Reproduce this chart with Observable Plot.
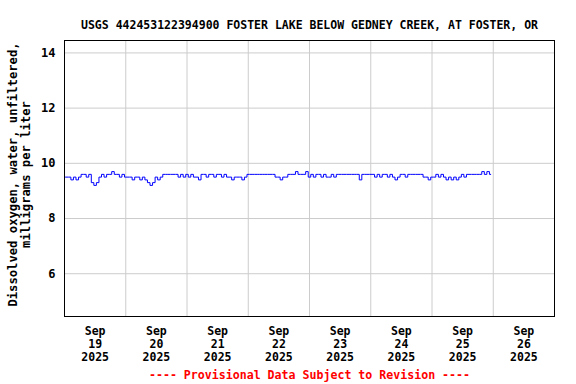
<!DOCTYPE html>
<html>
<head>
<meta charset="utf-8">
<script src="https://cdn.jsdelivr.net/npm/d3@7"></script>
<script src="https://cdn.jsdelivr.net/npm/@observablehq/plot@0.6"></script>
<style>
  html, body { margin: 0; padding: 0; background: #fff; }
  #chart svg { display: block; }
</style>
</head>
<body>
<div id="chart"></div>
<script>
const titleText = "USGS 442453122394900 FOSTER LAKE BELOW GEDNEY CREEK, AT FOSTER, OR";
const yLabelLines = ["Dissolved oxygen, water, unfiltered,", "milligrams per liter"];
const footerText = "---- Provisional Data Subject to Revision ----";
const tickMonth = "Sep";
const tickYear = "2025";
const tickDays = [19, 20, 21, 22, 23, 24, 25, 26];
const yTicks = [6, 8, 10, 12, 14];
const yDomain = [4.45, 14.45];
const startUTC = Date.UTC(2025, 8, 19, 0, 0);
const endUTC = Date.UTC(2025, 8, 27, 0, 0);

// hourly dissolved oxygen (mg/L), starting Sep 19 00:00
const doValues = [
  9.5, 9.5, 9.5, 9.4, 9.5, 9.4, 9.5, 9.6, 9.6, 9.5, 9.6, 9.3, 9.2, 9.3, 9.5, 9.6,
  9.5, 9.6, 9.6, 9.7, 9.6, 9.6, 9.5, 9.6, 9.5, 9.5, 9.5, 9.4, 9.5, 9.5, 9.4, 9.5,
  9.4, 9.3, 9.2, 9.3, 9.5, 9.4, 9.5, 9.6, 9.6, 9.6, 9.6, 9.6, 9.6, 9.5, 9.6, 9.5,
  9.6, 9.5, 9.6, 9.5, 9.5, 9.4, 9.6, 9.6, 9.5, 9.6, 9.6, 9.5, 9.6, 9.6, 9.5, 9.6,
  9.5, 9.5, 9.4, 9.5, 9.5, 9.5, 9.4, 9.5, 9.6, 9.6, 9.6, 9.6, 9.6, 9.6, 9.6, 9.6,
  9.6, 9.6, 9.6, 9.5, 9.5, 9.4, 9.5, 9.5, 9.6, 9.6, 9.6, 9.7, 9.6, 9.6, 9.6, 9.7,
  9.5, 9.6, 9.5, 9.6, 9.6, 9.5, 9.6, 9.5, 9.5, 9.6, 9.5, 9.6, 9.6, 9.6, 9.6, 9.6,
  9.6, 9.6, 9.6, 9.6, 9.4, 9.6, 9.6, 9.6, 9.6, 9.6, 9.5, 9.6, 9.5, 9.6, 9.6, 9.5,
  9.6, 9.5, 9.4, 9.5, 9.6, 9.6, 9.5, 9.6, 9.6, 9.6, 9.6, 9.6, 9.6, 9.5, 9.5, 9.4,
  9.5, 9.5, 9.6, 9.5, 9.6, 9.5, 9.4, 9.5, 9.4, 9.5, 9.4, 9.5, 9.6, 9.5, 9.6, 9.6,
  9.6, 9.6, 9.6, 9.6, 9.7, 9.6, 9.7, 9.6
];

const HOUR = 3600 * 1000;
const series = doValues.map((v, i) => ({date: new Date(startUTC + i * HOUR), value: v}));
const midnights = d3.range(1, 8).map(i => new Date(startUTC + i * 24 * HOUR));
const noons = tickDays.map((d, i) => new Date(startUTC + (i * 24 + 12) * HOUR));
const dayByTime = new Map(noons.map((t, i) => [t.getTime(), tickDays[i]]));

const FONT = "DejaVu Sans Mono, monospace";

const chart = Plot.plot({
  width: 576,
  height: 384,
  marginLeft: 64,
  marginRight: 22,
  marginTop: 40,
  marginBottom: 68,
  style: {fontFamily: FONT, fontWeight: "bold", background: "#fff", color: "#000"},
  x: {type: "utc", domain: [new Date(startUTC), new Date(endUTC)]},
  y: {domain: yDomain},
  marks: [
    Plot.gridX(midnights, {stroke: "#cccccc", strokeOpacity: 1, strokeWidth: 1}),
    Plot.gridY(yTicks, {stroke: "#cccccc", strokeOpacity: 1, strokeWidth: 1}),
    Plot.lineY(series, {x: "date", y: "value", stroke: "#0000ff", strokeWidth: 1, curve: "step"}),
    Plot.frame({stroke: "#000", strokeWidth: 1}),
    Plot.axisY({ticks: yTicks, tickSize: 0, tickPadding: 9, fontSize: 12, fontWeight: "bold", label: null, tickFormat: d => String(d)}),
    Plot.axisX({
      ticks: noons, tickSize: 0, tickPadding: 9, fontSize: 11.5, fontWeight: "bold",
      lineHeight: 1.13, label: null,
      tickFormat: d => `${tickMonth}\n${dayByTime.get(d.getTime())}\n${tickYear}`
    }),
    Plot.text([titleText], {frameAnchor: "top", dy: -20, fontSize: 11.5, fontWeight: "bold", fill: "#000"}),
    Plot.text([yLabelLines.join("\n")], {frameAnchor: "left", textAnchor: "middle", dx: -45.5, dy: -4, rotate: -90, fontSize: 12.2, lineHeight: 1.07, fontWeight: "bold", fill: "#000"}),
    Plot.text([footerText], {frameAnchor: "bottom", dy: 62, fontSize: 11.6, fontWeight: "bold", fill: "#ff0000"})
  ]
});
document.getElementById("chart").appendChild(chart);
</script>
</body>
</html>
